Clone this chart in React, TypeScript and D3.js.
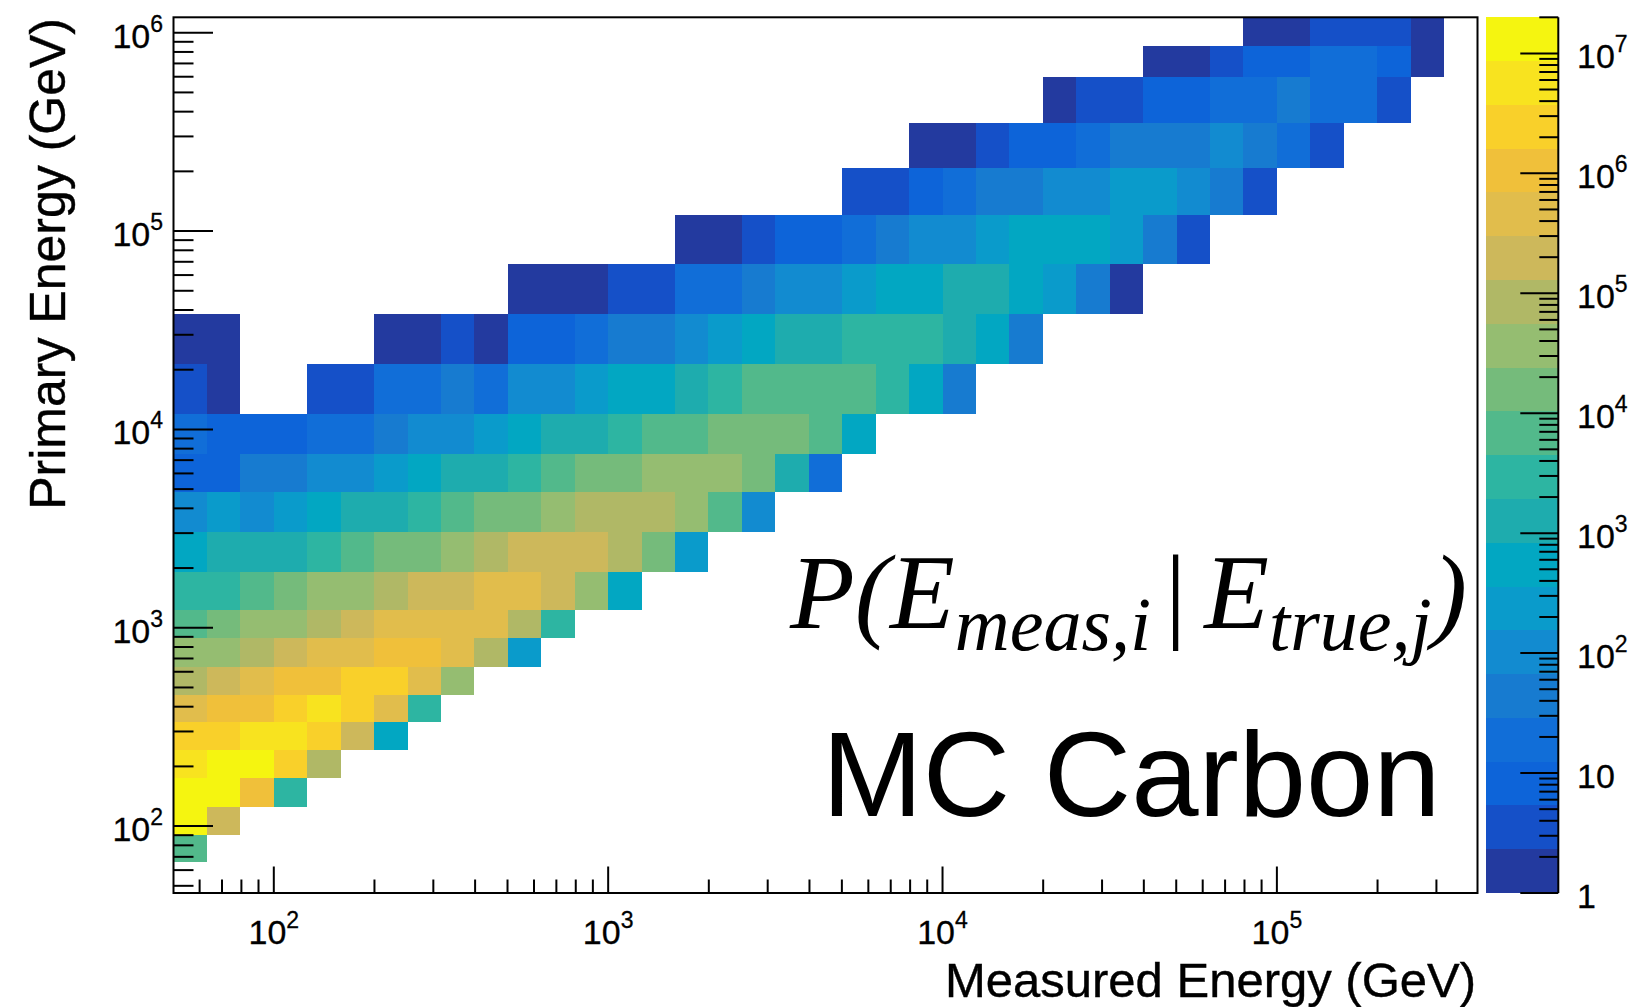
import React from 'react';
import * as d3 from 'd3';

// Measured-energy bin edges (GeV), 10 bins per decade
const xEdges = [50.12, 63.1, 79.43, 100, 125.9, 158.5, 199.5, 251.2, 316.2, 398.1, 501.2, 631, 794.3, 1000, 1259, 1585, 1995, 2512, 3162, 3981, 5012, 6310, 7943, 10000, 12590, 15850, 19950, 25120, 31620, 39810, 50120, 63100, 79430, 100000, 125900, 158500, 199500, 251200, 316200, 398100];
// Primary (true) energy bin edges (GeV), from bottom to top
const yEdges = [46, 65.9, 89.7, 125, 174, 242, 336, 458, 636, 884, 1227, 1910, 3040, 4830, 7540, 12000, 21400, 38200, 68000, 121000, 207000, 352000, 600000, 857000, 1196000];

// Colour scale maximum (counts)
const zMax = 2e7;

// Contour level colours, low to high
const levelColors = [
  '#233a9f', '#1550c8', '#0d64d9', '#116ed8', '#177bd0',
  '#128bd0', '#0a9bcb', '#02a7c2', '#1eacae', '#2db5a2',
  '#52b98b', '#75bb7b', '#95bd71', '#b0b866', '#cdb85b',
  '#e1bd4c', '#f0c03a', '#f9d02a', '#f8e31f', '#f5f510',
];

// Cell contents as log10(counts); j = true-energy bin, x0 = first measured-energy bin
const cellRows: { j: number; x0: number; logN: (number | null)[] }[] = [
  { j: 23, x0: 32, logN: [0.2, 0.2, 0.5, 0.5, 0.5, 0.2] },
  { j: 22, x0: 29, logN: [0.2, 0.2, 0.5, 0.9, 0.9, 1.3, 1.3, 0.9, 0.2] },
  { j: 21, x0: 26, logN: [0.2, 0.5, 0.5, 0.9, 0.9, 1.3, 1.3, 1.6, 1.3, 1.3, 0.5] },
  { j: 20, x0: 22, logN: [0.2, 0.2, 0.5, 0.9, 0.9, 1.3, 1.6, 1.6, 1.6, 2.0, 1.6, 1.3, 0.5] },
  { j: 19, x0: 20, logN: [0.5, 0.5, 0.9, 1.3, 1.6, 1.6, 2.0, 2.0, 2.4, 2.4, 2.0, 1.6, 0.5] },
  { j: 18, x0: 15, logN: [0.2, 0.2, 0.5, 0.9, 0.9, 1.3, 1.6, 2.0, 2.0, 2.4, 2.7, 2.7, 2.7, 2.4, 1.6, 0.5] },
  { j: 17, x0: 10, logN: [0.2, 0.2, 0.2, 0.5, 0.5, 1.3, 1.3, 1.6, 2.0, 2.0, 2.4, 2.7, 2.7, 3.1, 3.1, 2.7, 2.4, 1.6, 0.2] },
  { j: 16, x0: 0, logN: [0.2, 0.2, null, null, null, null, 0.2, 0.2, 0.5, 0.2, 0.9, 0.9, 1.3, 1.6, 1.6, 2.0, 2.4, 2.7, 3.1, 3.1, 3.5, 3.5, 3.5, 3.1, 2.7, 1.6] },
  { j: 15, x0: 0, logN: [0.5, 0.2, null, null, 0.5, 0.5, 1.3, 1.3, 1.6, 1.3, 2.0, 2.0, 2.4, 2.7, 2.7, 3.1, 3.5, 3.8, 3.8, 3.8, 3.8, 3.5, 2.7, 1.6] },
  { j: 14, x0: 0, logN: [1.3, 0.9, 0.9, 0.9, 1.3, 1.3, 1.6, 2.0, 2.0, 2.4, 2.7, 3.1, 3.1, 3.5, 3.8, 3.8, 4.2, 4.2, 4.2, 3.8, 2.7] },
  { j: 13, x0: 0, logN: [0.9, 0.9, 1.6, 1.6, 2.0, 2.0, 2.4, 2.7, 3.1, 3.1, 3.5, 3.8, 4.2, 4.2, 4.6, 4.6, 4.6, 4.2, 3.1, 1.3] },
  { j: 12, x0: 0, logN: [2.0, 2.4, 2.0, 2.4, 2.7, 3.1, 3.1, 3.5, 3.8, 4.2, 4.2, 4.6, 4.9, 4.9, 4.9, 4.6, 3.8, 2.0] },
  { j: 11, x0: 0, logN: [2.7, 3.1, 3.1, 3.1, 3.5, 3.8, 4.2, 4.2, 4.6, 4.9, 5.3, 5.3, 5.3, 4.9, 4.2, 2.4] },
  { j: 10, x0: 0, logN: [3.5, 3.5, 3.8, 4.2, 4.6, 4.6, 4.9, 5.3, 5.3, 5.7, 5.7, 5.3, 4.6, 2.7] },
  { j: 9, x0: 0, logN: [3.8, 4.2, 4.6, 4.6, 4.9, 5.3, 5.7, 5.7, 5.7, 5.7, 4.9, 3.5] },
  { j: 8, x0: 0, logN: [4.6, 4.6, 4.9, 5.3, 5.7, 5.7, 6.0, 6.0, 5.7, 4.9, 2.4] },
  { j: 7, x0: 0, logN: [4.9, 5.3, 5.7, 6.0, 6.0, 6.4, 6.4, 5.7, 4.6] },
  { j: 6, x0: 0, logN: [5.7, 6.0, 6.0, 6.4, 6.8, 6.4, 5.7, 3.5] },
  { j: 5, x0: 0, logN: [6.4, 6.4, 6.8, 6.8, 6.4, 5.3, 2.7] },
  { j: 4, x0: 0, logN: [6.8, 7.1, 7.1, 6.4, 4.9] },
  { j: 3, x0: 0, logN: [7.1, 7.1, 6.0, 3.5] },
  { j: 2, x0: 0, logN: [7.1, 5.3] },
  { j: 1, x0: 0, logN: [3.8] },
];

const xTitle = 'Measured Energy (GeV)';
const yTitle = 'Primary Energy (GeV)';
const labelText = 'MC Carbon';

const W = 1630;
const H = 1007;
const P = { left: 173.5, right: 1477.5, top: 17.3, bottom: 893 };
const BAR = { left: 1485.7, right: 1558.3 };
const SANS = "'Liberation Sans', Arial, Helvetica, sans-serif";
const SERIF = "'Liberation Serif', 'Times New Roman', serif";
const LBL = 34;

const isMajor = (t: number) => Math.abs(Math.log10(t) - Math.round(Math.log10(t))) < 1e-6;

function PowLabel(props: { x: number; y: number; v: number; anchor: string; short?: boolean }) {
  const e = Math.round(Math.log10(props.v));
  const common = {
    x: props.x,
    y: props.y,
    textAnchor: props.anchor as any,
    fontFamily: SANS,
    fontSize: LBL,
    fill: '#000',
    stroke: '#000',
    strokeWidth: 0.3,
  };
  if (props.short && e === 0) return <text {...common}>1</text>;
  if (props.short && e === 1) return <text {...common}>10</text>;
  return (
    <text {...common}>
      10
      <tspan dy={-16} fontSize={23}>
        {e}
      </tspan>
    </text>
  );
}

export default function App() {
  const x = d3.scaleLog().domain([xEdges[0], xEdges[xEdges.length - 1]]).range([P.left, P.right]);
  const y = d3.scaleLog().domain([yEdges[0], yEdges[yEdges.length - 1]]).range([P.bottom, P.top]);
  const z = d3.scaleLog().domain([1, zMax]).range([P.bottom, P.top]);
  const color = d3.scaleQuantize<string>().domain([0, Math.log10(zMax)]).range(levelColors);
  const bounds = [0, ...color.thresholds(), Math.log10(zMax)];

  const xTicks = x.ticks();
  const yTicks = y.ticks();
  const zTicks = z.ticks();

  const cells: React.ReactNode[] = [];
  cellRows.forEach((row) => {
    row.logN.forEach((v, k) => {
      if (v === null) return;
      const i = row.x0 + k;
      const x0 = x(xEdges[i]);
      const x1 = x(xEdges[i + 1]);
      const y0 = y(yEdges[row.j + 1]);
      const y1 = y(yEdges[row.j]);
      cells.push(
        <rect key={`c${row.j}-${i}`} x={x0} y={y0} width={x1 - x0} height={y1 - y0} fill={color(v)} />
      );
    });
  });

  return (
    <div style={{ position: 'absolute', left: 0, top: 0 }}>
      <svg width={W} height={H} viewBox={`0 0 ${W} ${H}`} style={{ display: 'block', background: '#fff' }}>
        <rect x={0} y={0} width={W} height={H} fill="#fff" />
        <g shapeRendering="crispEdges">{cells}</g>

        {/* frame */}
        <rect x={P.left} y={P.top} width={P.right - P.left} height={P.bottom - P.top} fill="none" stroke="#000" strokeWidth={2} />

        {/* x ticks */}
        {xTicks.map((t, i) => {
          const px = x(t);
          const len = isMajor(t) ? 26.5 : 13.5;
          return <line key={`xt${i}`} x1={px} x2={px} y1={P.bottom} y2={P.bottom - len} stroke="#000" strokeWidth={2} />;
        })}
        {xTicks.filter(isMajor).map((t, i) => (
          <PowLabel key={`xl${i}`} x={x(t)} y={944} v={t} anchor="middle" />
        ))}

        {/* y ticks */}
        {yTicks.map((t, i) => {
          const py = y(t);
          const len = isMajor(t) ? 39.5 : 20;
          return <line key={`yt${i}`} x1={P.left} x2={P.left + len} y1={py} y2={py} stroke="#000" strokeWidth={2} />;
        })}
        {yTicks.filter(isMajor).map((t, i) => (
          <PowLabel key={`yl${i}`} x={163} y={y(t) + 15} v={t} anchor="end" />
        ))}

        {/* colour bar */}
        <g shapeRendering="crispEdges">
          {levelColors.map((c, k) => {
            const top = z(Math.pow(10, bounds[k + 1]));
            const bot = z(Math.pow(10, bounds[k]));
            return <rect key={`b${k}`} x={BAR.left} y={top} width={BAR.right - BAR.left} height={bot - top} fill={c} />;
          })}
        </g>
        <line x1={BAR.right} x2={BAR.right} y1={P.top} y2={P.bottom} stroke="#000" strokeWidth={2} />
        {zTicks.map((t, i) => {
          const py = z(t);
          const len = isMajor(t) ? 38 : 19;
          return <line key={`zt${i}`} x1={BAR.right} x2={BAR.right - len} y1={py} y2={py} stroke="#000" strokeWidth={2} />;
        })}
        {zTicks.filter(isMajor).map((t, i) => (
          <PowLabel key={`zl${i}`} x={1577} y={z(t) + 15} v={t} anchor="start" short />
        ))}

        {/* axis titles */}
        <text x={1476} y={997} textAnchor="end" fontFamily={SANS} fontSize={49} fill="#000" stroke="#000" strokeWidth={0.4}>
          {xTitle}
        </text>
        <text transform="translate(65,18) rotate(-90)" textAnchor="end" fontFamily={SANS} fontSize={50} fill="#000" stroke="#000" strokeWidth={0.4}>
          {yTitle}
        </text>

        {/* annotations */}
        <text x={790} y={628} fontFamily={SERIF} fontStyle="italic" fontSize={106} fill="#000">
          P(E
          <tspan fontSize={76} dy={22}>meas,i</tspan>
          <tspan fontStyle="normal" fontSize={106} dy={-22} dx={14}>|</tspan>
          <tspan dx={18}>E</tspan>
          <tspan fontSize={76} dy={22}>true,j</tspan>
          <tspan fontSize={106} dy={-22}>)</tspan>
        </text>
        <text x={822} y={816} fontFamily={SANS} fontSize={121} fill="#000">
          {labelText}
        </text>
      </svg>
    </div>
  );
}
